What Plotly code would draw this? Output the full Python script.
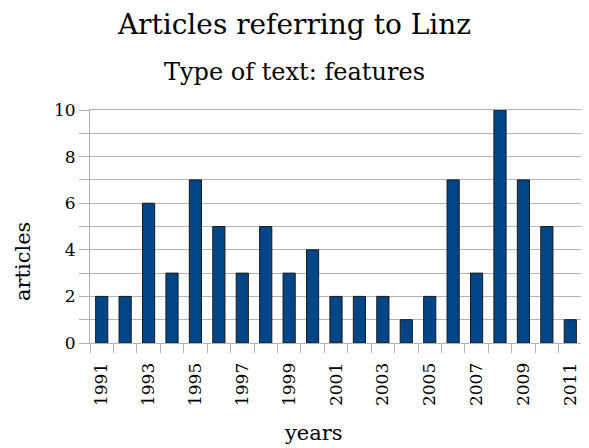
import plotly.graph_objects as go

# Data
years = list(range(1991, 2012))
articles = [2, 2, 6, 3, 7, 5, 3, 5, 3, 4, 2, 2, 2, 1, 2, 7, 3, 10, 7, 5, 1]
label_years = [1991, 1993, 1995, 1997, 1999, 2001, 2003, 2005, 2007, 2009, 2011]

FONT = 'DejaVu Serif'
GRID = '#b3b3b3'

fig = go.Figure()

fig.add_trace(go.Bar(
    x=years,
    y=articles,
    marker=dict(color='#004586', line=dict(color='#1a1a1a', width=1)),
    width=0.52,
    showlegend=False
))

# page body adds an 8px margin, so the figure is 8px smaller than the window
fig.update_layout(
    width=581, height=440,
    margin=dict(l=82, r=7, t=102, b=105),
    paper_bgcolor='white',
    plot_bgcolor='white',
    font=dict(family=FONT, color='#000000'),
    title=dict(text='Articles referring to Linz', x=0.493, xref='container', xanchor='center',
               y=1 - 16 / 440, yref='container', yanchor='middle',
               font=dict(family=FONT, size=28)),
)

# subtitle
fig.add_annotation(text='Type of text: features', xref='paper', yref='paper',
                   x=0.416, y=1 + 38 / 233, xanchor='center', yanchor='middle', showarrow=False,
                   font=dict(family=FONT, size=24))
# axis titles
fig.add_annotation(text='years', xref='paper', yref='paper',
                   x=0.455, y=-0.386, xanchor='center', yanchor='middle', showarrow=False,
                   font=dict(family=FONT, size=21))
fig.add_annotation(text='articles', xref='paper', yref='paper', textangle=-90,
                   x=-0.136, y=0.348, xanchor='center', yanchor='middle', showarrow=False,
                   font=dict(family=FONT, size=21))

fig.update_xaxes(
    range=[1990.5, 2011.5],
    tickvals=label_years,
    ticktext=[str(y) for y in label_years],
    tickangle=-90,
    ticks='',
    ticklabelstandoff=12,
    tickfont=dict(family=FONT, size=17),
    showgrid=False,
    zeroline=False,
    showline=True, linecolor=GRID, linewidth=1, mirror=True,
    minor=dict(tick0=1990.5, dtick=1, ticks='outside', ticklen=9, tickcolor=GRID, showgrid=False),
)

fig.update_yaxes(
    range=[0, 10],
    dtick=2,
    ticks='outside', ticklen=10, tickcolor=GRID,
    tickfont=dict(family=FONT, size=17),
    showgrid=True, gridcolor=GRID, gridwidth=1,
    zeroline=False,
    showline=True, linecolor=GRID, linewidth=1, mirror=True,
    minor=dict(dtick=1, ticks='outside', ticklen=10, tickcolor=GRID, showgrid=True, gridcolor=GRID),
)

fig.write_html('out.html')
